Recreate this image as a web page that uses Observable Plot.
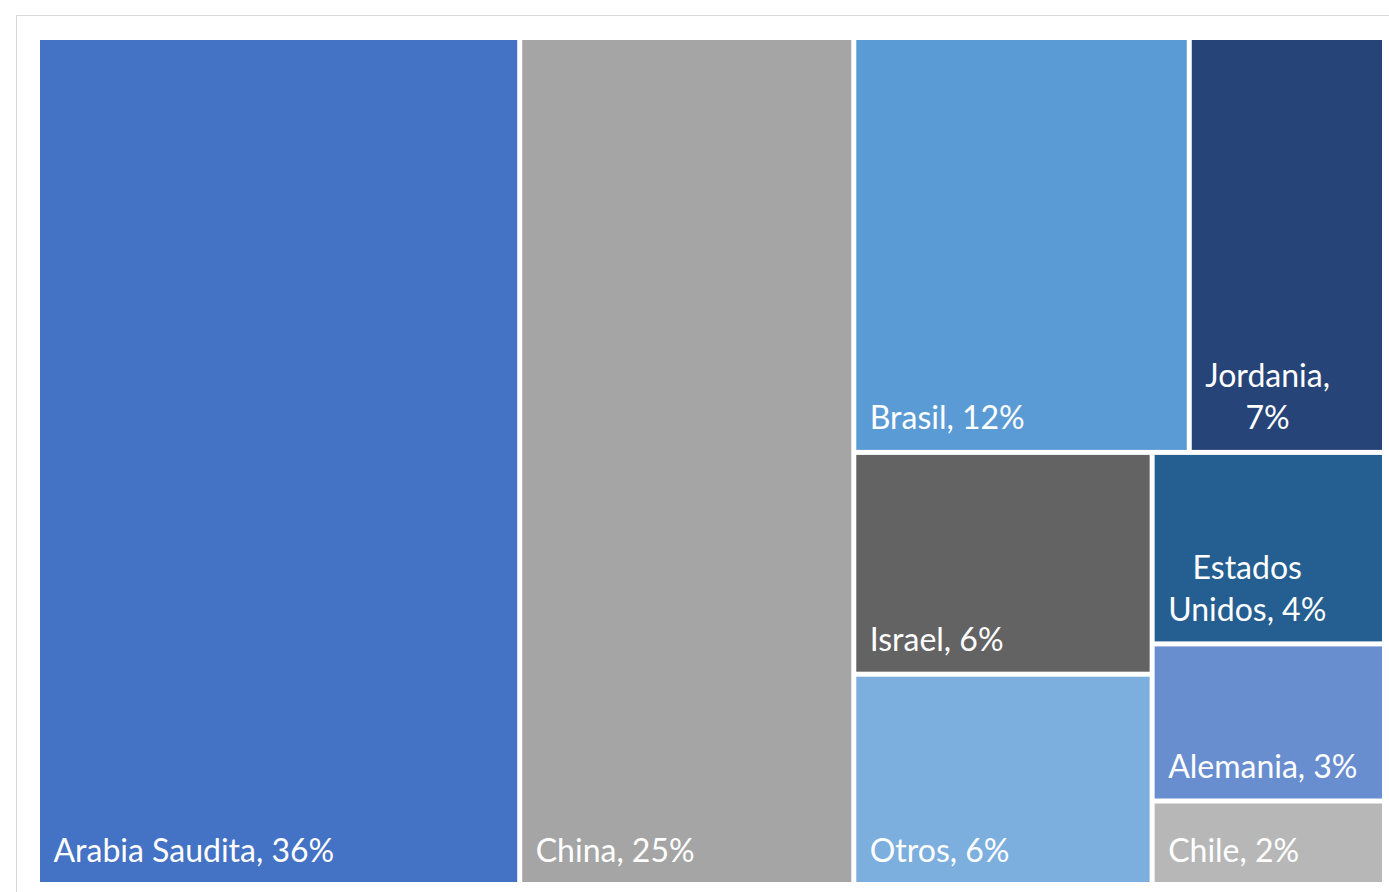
<!DOCTYPE html>
<html>
<head>
<meta charset="utf-8">
<script src="https://cdn.jsdelivr.net/npm/d3@7"></script>
<script src="https://cdn.jsdelivr.net/npm/@observablehq/plot@0.6"></script>
<style>
  html, body { margin: 0; padding: 0; background: #ffffff; overflow: hidden; }
  #frame { position: absolute; left: 16px; top: 15px; width: 1500px; height: 1000px;
           border-left: 1.5px solid #d9d9d9; border-top: 1.5px solid #d9d9d9; }
  #chart { position: absolute; left: 0; top: 0; }
</style>
</head>
<body>
<div id="frame"></div>
<div id="chart"></div>
<script>
// ---- data (shares in %) ----
const names  = ["Arabia Saudita", "China", "Brasil", "Jordania", "Israel", "Otros", "Estados Unidos", "Alemania", "Chile"];
const shares = [35.8, 24.8, 12.2, 7.1, 5.8, 5.5, 3.9, 3.2, 1.7];
const labels = ["Arabia Saudita, 36%", "China, 25%", "Brasil, 12%", "Jordania,\n7%", "Israel, 6%", "Otros, 6%", "Estados\nUnidos, 4%", "Alemania, 3%", "Chile, 2%"];
const colors = ["#4472C4", "#A5A5A5", "#5B9BD5", "#264478", "#636363", "#7CAFDD", "#255E91", "#698ED0", "#B7B7B7"];

// ---- hierarchy (Excel-like nesting) ----
const leaf = i => ({name: names[i], value: shares[i], label: labels[i], color: colors[i]});
const tree = {children: [
  leaf(0), leaf(1),
  {children: [
    {children: [leaf(2), leaf(3)]},
    {children: [
      {children: [leaf(4), leaf(5)]},
      {children: [leaf(6), leaf(7), leaf(8)]}
    ]}
  ]}
]};

const W = 1342, H = 842;
const root = d3.treemap()
  .tile(d3.treemapSliceDice)
  .size([W, H])
  .paddingInner(5)
  .round(false)(d3.hierarchy(tree).sum(d => d.value || 0));

const leaves = root.leaves().map(n => ({...n.data, x0: n.x0, x1: n.x1, y0: n.y0, y1: n.y1}));

// text measurement for centered multi-line labels
const FONT = "Lato";
const FS = 32;
const PAD = 13;
const ctx = document.createElement("canvas").getContext("2d");
ctx.font = `${FS}px ${FONT}`;
const blockWidth = s => d3.max(s.split("\n"), l => ctx.measureText(l).width);

const single = leaves.filter(d => !d.label.includes("\n"));
const multi = leaves.filter(d => d.label.includes("\n"));

const chart = Plot.plot({
  width: 1389,
  height: 892,
  marginLeft: 0, marginRight: 0, marginTop: 0, marginBottom: 0,
  x: {domain: [0, W], range: [40, 40 + W], axis: null},
  y: {domain: [0, H], range: [40, 40 + H], axis: null},
  color: {type: "identity"},
  style: {fontFamily: FONT, background: "transparent"},
  marks: [
    Plot.rect(leaves, {x1: "x0", x2: "x1", y1: "y0", y2: "y1", fill: "color"}),
    Plot.text(single, {
      x: "x0", y: "y1", text: "label", dx: PAD, dy: -21,
      textAnchor: "start", lineAnchor: "bottom",
      fill: "white", fontSize: FS, fontFamily: FONT
    }),
    Plot.text(multi, {
      x: d => d.x0 + PAD + blockWidth(d.label) / 2, y: "y1", text: "label", dy: -21,
      textAnchor: "middle", lineAnchor: "bottom", lineHeight: 42 / FS,
      fill: "white", fontSize: FS, fontFamily: FONT
    })
  ]
});
document.getElementById("chart").appendChild(chart);
</script>
</body>
</html>
